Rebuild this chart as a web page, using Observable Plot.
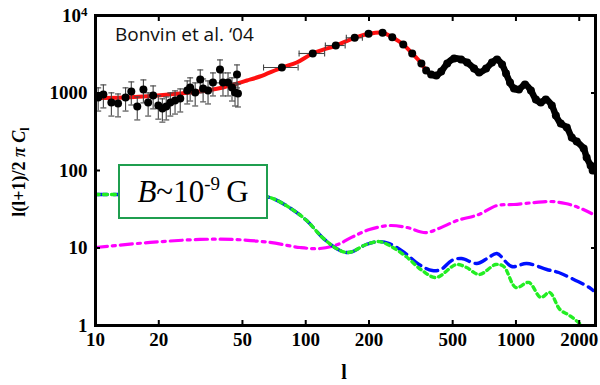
<!DOCTYPE html>
<html><head><meta charset="utf-8">
<script src="https://cdn.jsdelivr.net/npm/d3@7"></script>
<script src="https://cdn.jsdelivr.net/npm/@observablehq/plot@0.6"></script>
<style>
body{margin:0;background:#fff;}
#wrap{position:relative;width:600px;height:385px;overflow:hidden;background:#fff;}
#wrap svg{position:absolute;left:0;top:0;}
#cite{position:absolute;left:115px;top:25px;font:19px 'Open Sans',Arial,sans-serif;color:#111;white-space:nowrap;line-height:19px;}
#box{position:absolute;left:118px;top:164px;width:150px;height:55px;box-sizing:border-box;border:2px solid #1f9e4f;background:#fff;font:31px 'Liberation Serif',serif;display:flex;align-items:center;justify-content:center;white-space:nowrap;color:#000;}
#box sup{font-size:19px;vertical-align:0;position:relative;top:-12px}
</style></head>
<body><div id="wrap"><div id="cite">Bonvin et al. ‘04</div><div id="box"><span><i>B</i>~10<sup>-9</sup>&#8201;G</span></div></div>
<script>
// ---- tick values ----
const xTicks = [10, 20, 50, 100, 200, 500, 1000, 2000];
const yTicks = [1, 10, 100, 1000, 10000];

// ---- low-l data points with vertical error bars ----
const lowL = [10.3,10.9,11.9,12.8,13.9,14.8,15.8,16.9,17.8,18.8,19.9,20.8,21.7,22.7,23.9,25.3,27.3,28.2,29.8,31.5,32.5,34.3,36.2,39.1,40.4,42.7,44.6,46.1,47.1,47.6];
const lowV = [875,957,754,732,875,1045,669,1110,754,929,690,631,669,754,800,849,1077,1178,1015,1494,1143,1077,1366,2011,1366,1366,1178,1015,1733,985];
const lowErr = [290,315,250,240,290,345,220,365,250,305,230,210,220,250,265,280,355,390,335,490,375,355,450,660,450,450,390,335,570,325];

// ---- mid-l data points with horizontal error bars ----
const midL = [77,108,139,171,199,232,258];
const midV = [2133,3235,4100,5155,5805,5980,5250];
const midLo = [63,93,124,156,186,216,245];
const midHi = [92,123,154,186,213,248,272];

// ---- high-l data points (dense chain) ----
const hiL = [291,321,355,374,395,418,441,471,508,548,586,632,668,721,769,813,859,897,937,979,1033,1104,1178,1244,1313,1387,1481,1548,1634,1746,1843,1946,2100,2169,2266,2317];
const hiV = [4225,3235,2404,1950,1733,1683,1893,2404,2788,2706,2476,2070,1840,2070,2476,2706,2333,1786,1366,1143,1110,1288,1077,824,754,824,690,512,404,359,267,237,192,147,116,100];

// ---- theory curve (red) ----
const thL = [10,13.6,19.7,25.3,33.9,40.4,52.5,60.5,77,90.6,108,139,171,200,232,258,291,321,355,374,395,418,441,471,508,548,586,632,668,721,769,813,859,897,937,979,1033,1104,1178,1244,1313,1387,1481,1548,1634,1746,1843,1946,2100,2169,2266,2317];
const thV = [862,875,929,985,1077,1178,1449,1633,2133,2476,3235,4100,5155,5800,5980,5250,4225,3235,2404,1950,1733,1683,1893,2404,2788,2706,2476,2070,1840,2070,2476,2706,2333,1786,1366,1143,1110,1288,1077,824,754,824,690,512,404,359,267,237,192,147,116,100];

// ---- magnetic curves ----
const blueL = [10,12.4,25.3,48.7,67.6,83.6,101,120,140,156,167,194,224,250,294,346,400,440,495,551,651,742,811,955,1125,1402,1597,1845,2234,2330];
const blueV = [49,49,52,50.5,44.8,33.3,22.6,13.7,9.85,8.75,9.0,11.1,12.1,11.4,8.75,6.12,5.12,5.28,6.9,7.32,6.31,7.54,8.49,5.77,6.31,5.28,4.83,4.04,3.09,2.83];
const greenL = [10,12.4,25.3,48.7,67.6,83.6,101,120,140,156,167,194,224,250,300,358,417,520,582,668,801,875,1000,1151,1312,1445,1618,1793,2008,2234];
const greenV = [49,49,52,50.5,44.8,33.3,22.6,13.7,9.85,8.75,9.0,11.1,12.1,10.8,7.77,5.12,4.16,6.12,5.6,4.55,6.12,5.77,3.09,3.59,2.30,2.67,1.61,1.35,1.06,0.74];
const magL = [10,18.2,31.4,45.1,67.5,93.8,117,142,165,201,250,303,372,430,525,667,812,978,1222,1464,1720,1985,2289];
const magV = [10.15,11.8,12.9,12.9,11.8,10.15,9.85,11.1,13.7,17.3,19.5,18.4,15.8,17.9,22.6,27.1,35.3,36.4,38.6,39.8,37.5,33.3,27.9];

// ---- build tables ----
const zip = (a, b) => a.map((x, i) => ({x, y: b[i]}));
const low = lowL.map((x, i) => ({x, y: lowV[i], lo: lowV[i] - lowErr[i], hi: lowV[i] + lowErr[i]}));
const mid = midL.map((x, i) => ({x, y: midV[i], lo: midLo[i], hi: midHi[i]}));
const midBars = mid.slice(0, 4);
const hi = zip(hiL, hiV);
const chain = hi.filter(d => d.x >= 395);

const hCap = {draw(ctx, size) { const r = Math.sqrt(size / Math.PI); ctx.moveTo(-r, 0); ctx.lineTo(r, 0); }};
const vCap = {draw(ctx, size) { const r = Math.sqrt(size / Math.PI); ctx.moveTo(0, -r); ctx.lineTo(0, r); }};

const chart = Plot.plot({
  width: 600, height: 385,
  marginLeft: 95, marginRight: 5, marginTop: 15, marginBottom: 60,
  x: {type: "log", domain: [10, 2390]},
  y: {type: "log", domain: [1, 10000]},
  style: {fontFamily: "'Liberation Serif', 'Times New Roman', serif", fontSize: "19px", fontWeight: "bold", background: "white", color: "black"},
  marks: [
    Plot.line(zip(magL, magV), {x: "x", y: "y", stroke: "#ff00ff", strokeWidth: 3.2, strokeDasharray: "12,5,3,5", curve: "catmull-rom", clip: true}),
    Plot.line(zip(blueL, blueV), {x: "x", y: "y", stroke: "#0010ff", strokeWidth: 3.4, strokeDasharray: "12,6", curve: "catmull-rom", clip: true}),
    Plot.line(zip(greenL, greenV), {x: "x", y: "y", stroke: "#22ee22", strokeWidth: 3.4, strokeDasharray: "4,4", curve: "catmull-rom", clip: true}),
    Plot.line(zip(thL, thV), {x: "x", y: "y", stroke: "#ff1010", strokeWidth: 4, curve: "catmull-rom", clip: true}),
    // vertical error bars
    Plot.ruleX(low, {x: "x", y1: "lo", y2: "hi", stroke: "#444", strokeWidth: 1.1}),
    Plot.dot(low, {x: "x", y: "lo", symbol: hCap, r: 3, stroke: "#444", strokeWidth: 1.1, fill: "none"}),
    Plot.dot(low, {x: "x", y: "hi", symbol: hCap, r: 3, stroke: "#444", strokeWidth: 1.1, fill: "none"}),
    // horizontal error bars
    Plot.ruleY(midBars, {y: "y", x1: "lo", x2: "hi", stroke: "#444", strokeWidth: 1.1}),
    Plot.dot(midBars, {x: "lo", y: "y", symbol: vCap, r: 3, stroke: "#444", strokeWidth: 1.1, fill: "none"}),
    Plot.dot(midBars, {x: "hi", y: "y", symbol: vCap, r: 3, stroke: "#444", strokeWidth: 1.1, fill: "none"}),
    // data points
    Plot.line(chain, {x: "x", y: "y", stroke: "black", strokeWidth: 6.5, curve: "catmull-rom", clip: true}),
    Plot.dot(low, {x: "x", y: "y", r: 4, fill: "black"}),
    Plot.dot(mid, {x: "x", y: "y", r: 4, fill: "black"}),
    Plot.dot(hi, {x: "x", y: "y", r: 4, fill: "black", clip: true}),
    Plot.frame({stroke: "black", strokeWidth: 3}),
    Plot.axisX({anchor: "bottom", ticks: xTicks, tickSize: -5, tickPadding: 12, tickFormat: d => String(d), label: null, strokeWidth: 2}),
    Plot.axisX({anchor: "top", ticks: xTicks, tickSize: -5, tickFormat: () => "", label: null, strokeWidth: 2}),
    Plot.axisY({anchor: "left", ticks: yTicks, tickSize: -5, tickPadding: 13, tickFormat: d => d === 10000 ? "10^4" : String(d), label: null, strokeWidth: 2}),
    Plot.axisY({anchor: "right", ticks: yTicks, tickSize: -5, tickFormat: () => "", label: null, strokeWidth: 2})
  ]
});

const svg = d3.select(chart);
svg.selectAll("text").each(function() {
  const t = d3.select(this);
  if (t.text() === "10^4") {
    t.text("10");
    t.append("tspan").attr("dy", "-0.45em").attr("font-size", "13px").text("4");
  }
});
// axis titles
svg.append("text").attr("x", 344).attr("y", 379).attr("text-anchor", "middle")
  .attr("font-family", "'Liberation Serif', serif").attr("font-weight", "bold").attr("font-size", 20).text("l");
const yl = svg.append("text").attr("transform", "translate(25,172) rotate(-90)").attr("text-anchor", "middle")
  .attr("font-family", "'Liberation Serif', serif").attr("font-weight", "bold").attr("font-size", 18);
yl.append("tspan").text("l(l+1)/2 ");
yl.append("tspan").attr("font-style", "italic").text("π ");
yl.append("tspan").attr("font-style", "italic").text("C");
yl.append("tspan").attr("font-size", 12).attr("dy", "4").text("l");

document.getElementById("wrap").prepend(chart);
</script>
</body></html>
